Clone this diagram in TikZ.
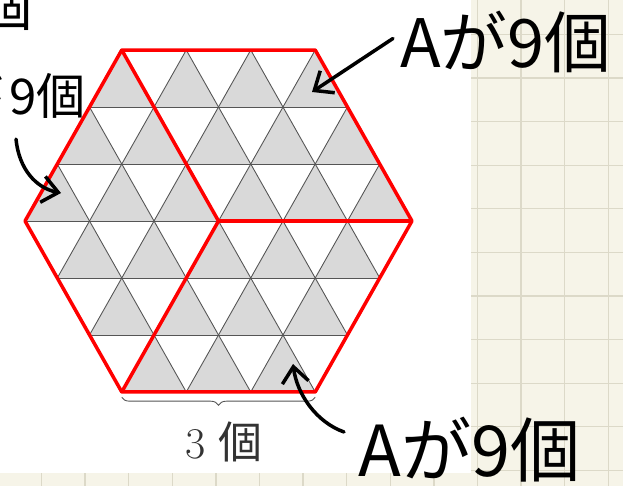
\documentclass[tikz,border=0pt]{standalone}
\usepackage{fontspec}
\newfontfamily\cjk{Noto Sans CJK JP}
\usetikzlibrary{arrows.meta,calc,decorations.pathreplacing}
\definecolor{paper}{HTML}{F6F4E8}
\definecolor{ruleline}{HTML}{DCD9C8}
\definecolor{tile}{HTML}{D9D9D9}
\definecolor{edge}{HTML}{555555}
\definecolor{cut}{HTML}{FF0000}
\tikzset{
  hand/.style={line width=2pt,line cap=round,line join=round,
    -{Straight Barb[length=9pt,width=15pt,line width=2pt]}},
  note/.style={font=\cjk\fontsize{38}{42}\selectfont,inner sep=0pt},
}
\begin{document}
\begin{tikzpicture}[x=0.02cm,y=-0.02cm]
    \useasboundingbox (0,0) rectangle (623,486);
    % grid paper
    \fill[paper] (0,0) rectangle (623,486);
    \foreach \gx in {0,...,13}
      \draw[ruleline,line width=0.7pt] ({41.5+43.6*\gx},0) -- ++(0,486);
    \foreach \gy in {0,...,10}
      \draw[ruleline,line width=0.7pt] (0,{34.4+43.6*\gy}) -- ++(623,0);
    \fill[white] (0,0) rectangle (471,473);
    % hexagon of triangles
    \begin{scope}[shift={(218.5,221)},x=1.29cm,y=1.14cm]
      \coordinate (hexW) at (-3,0);
      \coordinate (hexNW) at (-1.5,3);
      \coordinate (hexNE) at (1.5,3);
      \coordinate (hexE) at (3,0);
      \coordinate (hexSE) at (1.5,-3);
      \coordinate (hexSW) at (-1.5,-3);
      \coordinate (hexO) at (0,0);
      \begin{scope}
        \clip (hexW) -- (hexNW) -- (hexNE) -- (hexE) -- (hexSE) -- (hexSW) -- cycle;
        \foreach \j in {-3,...,2}
          \foreach \i in {-5,...,4}
            \fill[tile] ({\i+\j/2},\j) -- ++(1,0) -- ++(-0.5,1) -- cycle;
        \foreach \j in {-2,...,2}
          \draw[edge,line width=0.5pt] (-3,\j) -- (3,\j);
        \foreach \a in {-5,...,5} {
          \draw[edge,line width=0.5pt] ({\a-1.5},-3) -- ({\a+1.5},3);
          \draw[edge,line width=0.5pt] ({\a+1.5},-3) -- ({\a-1.5},3);
        }
      \end{scope}
      \draw[edge,line width=0.5pt] (hexW) -- (hexNW) -- (hexNE) -- (hexE) -- (hexSE) -- (hexSW) -- cycle;
      \draw[cut,line width=2pt,line join=round]
        (hexW) -- (hexNW) -- (hexNE) -- (hexE) -- (hexSE) -- (hexSW) -- cycle;
      \draw[cut,line width=2pt,line join=round] (hexNW) -- (hexO) -- (hexE) (hexO) -- (hexSW);
      % brace under bottom side
      \draw[edge,line width=0.5pt,decorate,decoration={brace,mirror,amplitude=4.5pt}]
        ([yshift=-3pt]hexSW) -- ([yshift=-3pt]hexSE);
    \end{scope}
    \node[font=\fontsize{25}{28}\selectfont,text=black!80,inner sep=0pt] (cnt) at (224,442) {3 {\cjk 個}};
    % handwritten notes
    \node[font=\cjk\fontsize{32}{34}\selectfont,inner sep=0pt,anchor=south east] (frag) at (33,31) {個};
    \node[note,anchor=west] (lblA) at (400,42) {Aが9個};
    \node[note,font=\cjk\fontsize{28}{32}\selectfont,anchor=east] (lblB) at (86,96) {Aが\kern3pt 9個};
    \node[note,font=\cjk\fontsize{40}{44}\selectfont,anchor=west] (lblC) at (358,450) {Aが9個};
    \coordinate (tipA) at (312,92);
    \coordinate (tipB) at (61,193);
    \coordinate (tipC) at (293,364);
    \draw[hand] ([xshift=-4pt,yshift=2pt]lblA.west) -- (tipA);
    \draw[hand] ($(lblB.south east)+(-70,20)$) .. controls +(3,30) and +(-25,-5) .. (tipB);
    \draw[hand] ($(lblC.west)+(-14,-18)$) .. controls +(-28,-10) and +(4,30) .. (tipC);
\end{tikzpicture}
\end{document}
